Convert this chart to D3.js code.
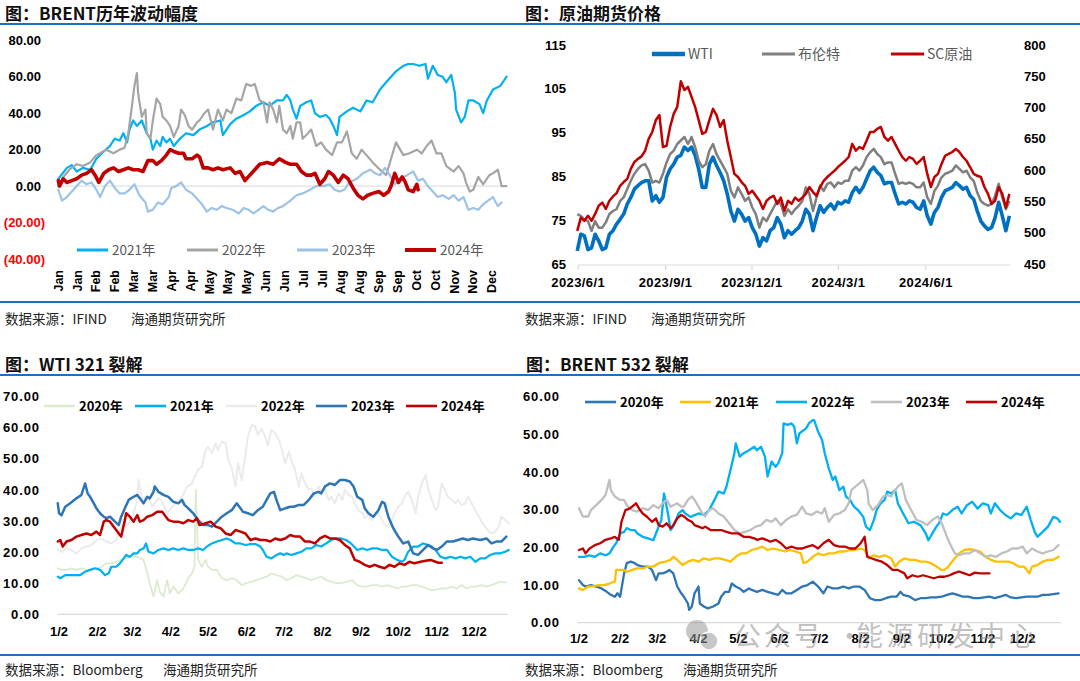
<!DOCTYPE html>
<html><head><meta charset="utf-8">
<script src="https://cdn.jsdelivr.net/npm/d3@7"></script>
<style>html,body{margin:0;padding:0;background:#fff}svg{display:block}</style>
</head><body>
<svg id="c" width="1080" height="681"></svg>
<script>
// ---------------- DATA ----------------
// Panel 1: BRENT volatility by year, [day of year, value]
const volMonths = ["Jan","Jan","Feb","Feb","Mar","Mar","Apr","Apr","May","May","May","Jun","Jun","Jul","Jul","Aug","Aug","Sep","Sep","Oct","Oct","Nov","Nov","Dec"];
const volTicks = [-40,-20,0,20,40,60,80];
const vol2021 = [[0,4],[7,10],[11,11.5],[15,8],[20,10],[26,9],[31,15],[37,19],[42,22],[46,26],[50,25],[53,29],[56,24],[58,31],[61,36],[64,33],[68,36],[72,29],[75,26],[77,20],[80,25],[83,22],[85,27],[88,24],[91,26],[94,22],[99,26],[104,29],[110,28],[115,31],[121,33],[126,35],[132,36],[134,28],[140,34],[145,37],[151,39],[156,41],[161,44],[167,46],[172,44],[178,47],[183,47],[186,50],[189,47],[191,42],[194,37],[197,44],[202,46],[206,47],[209,40],[213,38],[218,39],[221,37],[224,33],[227,28],[229,38],[235,41],[240,43],[246,41],[251,47],[256,46],[262,53],[267,57],[271,60],[275,63],[281,66],[285,67],[289,67],[294,66],[299,67],[301,59],[305,66],[309,61],[313,60],[316,57],[320,61],[323,51],[324,42],[328,35],[331,38],[334,47],[338,47],[343,45],[346,40],[349,47],[354,53],[360,55],[365,60]];
const vol2022 = [[0,0],[4,5],[9,9],[15,12],[20,11],[26,13],[31,17],[34,18],[39,20],[45,18],[50,20],[54,21],[57,29],[60,44],[62,55],[64,62],[65,51],[68,38],[71,42],[72,29],[75,26],[77,36],[80,48],[83,45],[85,38],[88,36],[91,33],[94,27],[98,33],[100,42],[103,39],[106,33],[109,31],[113,35],[115,36],[119,40],[122,42],[126,31],[130,42],[134,36],[137,42],[141,40],[145,48],[149,47],[153,56],[157,55],[160,56],[164,47],[167,46],[170,35],[172,46],[175,42],[178,35],[180,44],[183,31],[186,29],[189,33],[191,26],[194,35],[197,35],[199,26],[202,28],[206,31],[210,22],[214,24],[218,20],[223,17],[227,24],[231,24],[235,30],[239,18],[243,15],[247,20],[251,17],[256,13],[262,9],[267,6],[271,15],[275,24],[281,17],[286,18],[292,20],[296,18],[300,22],[304,25],[308,18],[312,18],[316,11],[322,8],[326,11],[330,7],[332,2],[335,-3],[338,-2],[342,5],[346,1],[351,6],[354,7],[358,9],[361,0],[365,0]];
const vol2023 = [[0,-2],[3,-8],[7,-6],[11,-3],[15,0],[19,3],[23,1],[27,2],[31,-2],[34,-6],[38,0],[42,3],[46,-1],[50,-4],[54,-4],[58,-2],[62,1],[66,-5],[71,-9],[73,-14],[77,-13],[81,-9],[85,-10],[90,-6],[92,-1],[96,0],[100,2],[104,-2],[109,-4],[113,-7],[117,-10],[121,-14],[125,-12],[129,-13],[133,-11],[137,-12],[142,-13],[147,-15],[151,-12],[155,-13],[159,-15],[163,-13],[167,-11],[171,-13],[175,-14],[179,-12],[183,-11],[189,-8],[194,-5],[199,-4],[205,-2],[210,0],[216,0],[221,1],[225,-2],[229,-3],[233,-2],[237,2],[243,4],[248,7],[254,9],[258,7],[262,6],[266,10],[270,6],[274,1],[278,4],[284,6],[289,8],[293,3],[297,4],[301,0],[305,-3],[309,-6],[313,-5],[318,-7],[322,-5],[326,-8],[330,-6],[334,-13],[338,-12],[342,-13],[346,-10],[350,-8],[354,-6],[358,-11],[361,-9]];
const vol2024 = [[0,3],[1,0],[4,4],[7,2],[11,3],[15,4],[19,6],[23,7],[27,9],[30,6],[33,2],[37,7],[41,9],[45,10],[49,8],[53,9],[57,10],[61,9],[65,9],[69,8],[73,14],[77,14],[80,12],[84,14],[88,17],[91,20],[94,19],[98,18],[102,18],[104,15],[109,15],[113,17],[115,16],[118,10],[122,10],[126,9],[130,10],[134,9],[140,10],[144,7],[148,8],[152,3],[156,6],[160,9],[164,12],[170,13],[175,12],[180,15],[185,13],[189,12],[194,12],[198,8],[202,6],[206,6],[209,7],[213,1],[217,4],[220,8],[224,6],[228,2],[232,6],[236,4],[240,-1],[244,-5],[248,-7],[252,-5],[256,-4],[261,-3],[265,-5],[269,-3],[271,0],[274,7],[277,2],[280,5],[282,3],[285,-2],[289,-3],[292,1],[293,-2]];

// Panel 2: crude futures prices, sampled every ~3.76 days from 2023-05-31
const priceStart = "2023-05-31";
const priceStepDays = 3.76;
const priceTickDates = ["2023-06-01","2023-09-01","2023-12-01","2024-03-01","2024-06-01"];
const priceTickLabels = ["2023/6/1","2023/9/1","2023/12/1","2024/3/1","2024/6/1"];
const leftTicks = [65,75,85,95,105,115];
const rightTicks = [450,500,550,600,650,700,750,800];
const wti = [68.0,71.8,71.4,68.3,68.7,71.8,70.3,68.3,68.7,71.8,72.6,74.1,75.2,76.4,78.7,80.2,82.1,82.9,83.6,84.0,84.0,79.4,80.6,79.1,80.2,84.8,86.7,87.8,89.4,89.8,91.7,90.9,91.7,89.8,86.7,82.5,82.5,87.8,89.4,87.5,85.9,84.0,81.0,77.1,74.8,77.5,76.4,74.8,75.6,73.3,71.8,69.1,71.0,70.3,72.6,73.3,75.6,74.1,71.0,72.6,71.8,72.6,73.3,74.8,77.5,76.4,72.6,75.6,78.3,76.8,77.9,78.7,77.5,79.1,78.7,79.4,79.1,81.3,82.5,81.3,82.5,84.4,86.3,87.1,85.9,85.2,83.3,83.6,83.6,81.0,78.7,79.1,78.7,79.4,79.1,77.9,77.5,79.4,76.0,74.1,76.8,77.9,80.2,81.7,82.1,82.5,83.6,82.9,82.1,82.5,80.6,79.8,77.1,74.8,73.7,72.9,73.3,75.6,79.1,76.0,72.6,76.0];
const brent = [76.4,76.0,75.2,74.8,72.6,74.8,73.3,73.3,74.5,76.4,77.1,77.5,79.4,80.2,82.1,84.0,85.6,86.7,87.5,87.8,86.3,83.6,84.0,83.6,85.6,88.2,90.1,90.9,92.4,93.2,94.0,92.4,94.0,91.7,88.6,87.1,87.8,90.9,92.4,90.1,88.6,87.1,85.6,81.7,80.2,82.5,81.0,79.4,80.2,77.9,76.4,73.3,75.6,74.8,76.4,77.9,79.4,78.7,76.0,77.5,76.4,77.5,78.3,79.4,82.5,81.0,77.1,80.2,82.9,81.7,83.3,83.6,82.5,83.6,83.3,84.0,84.0,86.3,87.1,86.3,87.5,89.4,90.5,91.3,90.1,89.4,87.8,88.2,88.2,85.6,83.3,83.6,83.3,83.6,83.3,82.5,82.5,83.6,80.2,78.7,81.7,82.9,84.8,85.6,85.9,86.3,87.5,86.7,85.9,86.3,84.8,84.0,81.3,79.4,78.7,78.3,78.7,80.6,83.3,80.2,77.5,79.4];
const sc = [503,524,519,527,519,530,543,548,538,551,558,563,575,581,586,602,613,618,622,631,650,661,680,688,637,639,669,690,701,742,728,733,717,701,680,658,661,680,698,688,669,680,647,621,594,589,581,575,562,567,559,551,538,551,556,559,546,556,535,551,546,556,551,556,562,573,565,559,573,583,589,594,599,605,610,615,621,642,631,637,634,647,661,661,666,669,653,647,653,642,631,621,615,621,618,610,615,621,594,573,589,594,610,623,626,629,634,629,621,615,605,594,591,589,573,562,546,551,573,562,540,562];

// Panel 3: WTI 321 crack, [day of year, value]
const crackTickLabels = ["1/2","2/2","3/2","4/2","5/2","6/2","7/2","8/2","9/2","10/2","11/2","12/2"];
const wtiCrackTicks = [0,10,20,30,40,50,60,70];
const w2020 = [[0,14.8],[3,14.3],[7,14.3],[11,14.8],[15,14.3],[19,14.8],[23,14.3],[27,14.3],[31,14.8],[35,15.3],[39,16.4],[43,16.4],[47,16.9],[51,17.5],[55,18.0],[59,18.5],[64,18.5],[66,18.0],[69,17.5],[72,13.2],[74,10.0],[77,5.7],[80,11.0],[82,7.3],[85,5.7],[88,11.0],[90,6.7],[93,8.9],[97,6.7],[101,8.3],[105,11.6],[108,13.2],[110,15.3],[111,40.0],[113,17.5],[116,15.3],[119,17.5],[121,15.3],[124,14.3],[128,14.3],[132,11.6],[136,11.0],[140,11.6],[144,11.0],[148,9.4],[152,10.0],[156,10.5],[160,11.0],[164,11.6],[168,12.1],[172,13.2],[176,12.6],[180,12.1],[184,11.0],[188,11.6],[192,12.6],[196,12.1],[200,11.6],[204,11.0],[208,11.6],[212,12.1],[216,11.0],[220,10.5],[224,10.0],[228,10.0],[233,10.5],[237,11.0],[241,9.4],[245,8.9],[249,8.9],[253,9.4],[257,9.4],[261,8.9],[265,9.4],[269,8.9],[273,8.3],[277,8.9],[281,8.9],[285,9.4],[289,9.4],[293,8.9],[297,8.3],[301,7.8],[305,8.0],[309,8.3],[313,8.3],[317,8.9],[321,8.3],[325,9.4],[329,8.3],[333,8.9],[337,8.9],[341,9.4],[345,8.9],[349,9.4],[353,10.0],[357,10.5],[361,10.2]];
const w2021 = [[0,12.1],[2,11.6],[6,12.6],[10,12.6],[14,12.6],[18,12.6],[22,13.7],[26,14.3],[30,14.8],[34,14.3],[38,12.6],[41,13.2],[43,15.3],[47,15.3],[50,16.4],[53,18.0],[55,19.1],[58,18.5],[61,19.6],[64,19.6],[66,20.7],[69,21.2],[71,22.8],[73,20.1],[77,19.6],[81,20.7],[85,21.2],[89,20.7],[93,21.2],[97,20.7],[101,21.2],[105,20.7],[109,20.7],[113,21.2],[117,20.7],[120,21.8],[124,22.8],[128,23.4],[132,23.9],[136,24.4],[139,23.9],[143,22.8],[147,22.8],[151,22.3],[155,22.6],[159,22.6],[163,21.8],[165,20.7],[168,18.5],[172,18.0],[176,19.1],[179,19.6],[182,19.1],[184,19.6],[188,19.1],[192,19.6],[196,20.1],[200,21.2],[204,21.2],[208,22.3],[212,21.8],[216,22.8],[220,23.9],[224,24.4],[228,24.4],[232,23.9],[236,22.8],[241,20.7],[245,21.2],[249,20.7],[253,21.2],[257,21.2],[261,20.7],[265,20.7],[269,18.5],[273,17.5],[277,16.9],[279,17.5],[282,20.1],[286,21.8],[290,21.8],[294,22.8],[298,22.3],[301,21.8],[304,20.7],[308,18.5],[312,18.0],[316,18.5],[320,18.0],[324,18.5],[328,18.0],[332,18.5],[336,16.9],[340,18.0],[344,18.0],[348,19.1],[352,19.6],[356,19.6],[360,20.1],[363,20.7]];
const w2022 = [[0,20.7],[3,20.1],[7,21.2],[11,20.7],[15,19.6],[19,21.2],[23,21.8],[27,22.3],[31,23.9],[35,24.4],[39,23.4],[43,22.8],[47,23.9],[50,27.1],[53,30.3],[55,28.2],[58,29.8],[61,32.5],[64,36.8],[65,43.2],[68,36.8],[70,37.8],[73,37.8],[76,34.6],[78,35.7],[81,37.3],[84,36.2],[88,32.5],[92,34.6],[96,36.2],[100,37.8],[104,41.1],[108,42.1],[110,44.3],[113,46.4],[116,47.5],[119,52.9],[121,53.9],[124,51.8],[127,55.0],[129,52.9],[132,55.5],[135,55.0],[137,50.2],[140,46.9],[143,41.1],[145,48.6],[148,43.2],[151,51.2],[153,57.1],[156,60.9],[159,60.4],[161,57.7],[164,59.8],[167,57.1],[169,54.4],[172,59.3],[175,58.2],[178,56.1],[180,53.4],[183,48.6],[186,52.3],[188,49.6],[191,46.4],[194,41.1],[196,45.3],[199,42.1],[202,40.0],[204,40.5],[207,38.4],[210,41.1],[212,39.4],[215,40.0],[218,36.8],[220,37.8],[223,35.7],[226,38.9],[229,36.8],[231,40.0],[234,38.4],[237,37.8],[239,35.7],[242,33.5],[245,32.5],[247,30.9],[250,31.9],[253,30.3],[255,32.5],[258,32.5],[261,30.3],[263,28.7],[266,28.2],[269,30.3],[271,32.5],[274,34.6],[277,35.7],[279,37.8],[282,39.4],[285,36.8],[288,32.5],[290,37.8],[293,42.1],[296,44.8],[298,40.5],[301,36.8],[304,33.5],[306,34.6],[309,42.1],[312,39.4],[314,37.8],[317,36.8],[320,35.7],[322,36.8],[325,35.2],[328,35.7],[330,37.8],[333,35.7],[336,33.5],[339,31.4],[341,29.8],[344,28.2],[347,26.6],[349,26.0],[352,26.6],[355,28.2],[357,31.4],[360,30.3],[363,29.3]];
const w2023 = [[0,35.7],[1,32.5],[3,31.9],[6,34.6],[10,35.7],[15,37.3],[19,38.4],[22,42.1],[24,38.9],[26,37.8],[29,35.7],[31,34.1],[34,32.5],[37,31.4],[39,30.9],[42,31.4],[46,29.8],[49,28.7],[51,31.4],[54,34.1],[57,36.8],[61,37.8],[64,38.4],[66,37.3],[69,35.7],[72,37.8],[74,37.3],[77,39.4],[78,41.1],[81,39.4],[85,38.4],[89,37.8],[93,36.2],[97,35.7],[100,36.8],[102,35.2],[105,34.1],[109,32.5],[113,30.3],[117,28.7],[121,28.7],[124,28.2],[128,29.8],[132,31.4],[136,32.5],[140,33.5],[144,35.7],[147,34.1],[149,33.0],[153,32.5],[157,31.9],[161,33.5],[165,34.6],[168,36.8],[171,38.9],[174,39.4],[176,36.8],[179,33.5],[183,34.1],[187,34.6],[190,34.6],[194,35.2],[198,35.2],[202,36.8],[206,38.9],[210,39.4],[212,38.9],[215,41.1],[219,42.1],[223,41.6],[227,43.2],[231,43.2],[235,42.7],[238,41.1],[241,37.8],[245,36.8],[247,34.1],[250,32.5],[254,31.4],[258,33.5],[261,36.2],[263,35.7],[266,31.4],[270,27.7],[274,25.0],[278,22.8],[282,23.4],[286,19.6],[290,19.1],[294,20.7],[298,22.3],[302,21.2],[305,20.7],[309,21.8],[313,23.4],[318,23.4],[322,23.9],[326,24.4],[330,23.9],[334,24.4],[340,23.9],[345,24.4],[349,22.8],[353,23.4],[357,23.4],[361,25.0]];
const w2024 = [[0,23.4],[2,23.9],[4,21.8],[7,23.4],[11,23.9],[15,25.0],[19,25.5],[23,26.0],[27,25.5],[31,26.6],[34,25.5],[37,29.8],[39,30.3],[42,29.8],[45,28.2],[47,27.1],[50,25.5],[51,25.0],[54,30.3],[55,32.5],[58,31.4],[61,29.8],[64,31.9],[66,29.8],[69,30.3],[72,31.4],[76,31.9],[80,33.0],[84,33.0],[86,31.9],[89,30.3],[93,29.8],[97,29.8],[101,29.3],[105,30.3],[109,29.8],[112,30.9],[114,28.7],[119,29.3],[123,29.8],[127,28.2],[131,27.7],[135,26.0],[139,25.5],[143,27.1],[147,26.6],[151,26.0],[155,23.9],[159,24.4],[163,23.9],[167,23.9],[171,23.4],[175,24.4],[179,23.9],[183,24.4],[187,25.5],[191,25.0],[195,25.0],[199,23.4],[203,23.4],[207,22.8],[211,24.4],[215,25.2],[219,24.4],[223,24.4],[227,23.9],[231,22.3],[235,21.2],[239,17.5],[243,16.9],[247,15.9],[251,15.3],[255,15.9],[259,15.3],[263,14.8],[267,15.9],[271,15.3],[275,16.4],[279,15.9],[283,16.9],[287,16.4],[292,16.9],[296,17.2],[300,17.5],[304,16.9],[306,16.6],[309,16.6]];

// Panel 4: BRENT 532 crack, [day of year, value]
const brentCrackTicks = [0,10,20,30,40,50,60];
const b2020 = [[1,11.3],[4,10.0],[6,9.6],[10,10.0],[14,9.6],[18,9.1],[22,8.2],[25,7.4],[28,6.9],[30,7.8],[32,6.9],[35,13.1],[37,15.8],[40,16.2],[43,15.8],[45,15.3],[49,14.9],[53,14.9],[56,14.0],[59,11.3],[61,13.1],[64,13.1],[67,13.5],[69,14.0],[72,13.1],[75,9.6],[78,7.8],[80,6.9],[83,5.1],[84,3.4],[86,4.3],[88,7.8],[91,9.6],[92,5.1],[95,4.3],[98,3.8],[102,4.3],[106,5.1],[108,6.9],[111,8.2],[114,8.2],[116,10.4],[119,9.6],[122,9.1],[125,8.2],[129,9.1],[131,8.7],[135,8.2],[139,8.7],[143,8.2],[147,7.8],[151,7.4],[154,8.7],[157,7.8],[161,7.8],[165,8.7],[169,9.6],[173,10.0],[177,10.9],[181,9.6],[185,7.8],[188,9.6],[192,9.1],[196,9.1],[200,9.6],[204,9.1],[208,9.6],[212,9.6],[216,8.7],[220,6.5],[224,6.0],[228,6.0],[232,6.5],[236,6.9],[240,6.9],[243,8.2],[245,7.4],[250,6.9],[254,6.0],[258,6.5],[262,6.5],[266,6.7],[270,6.7],[274,6.9],[278,7.4],[282,7.8],[286,7.4],[290,6.9],[294,6.9],[298,6.5],[302,6.5],[306,6.7],[310,6.9],[314,6.5],[318,6.9],[322,7.4],[326,6.7],[330,6.5],[334,6.7],[338,6.9],[342,6.9],[346,6.9],[350,7.4],[354,7.4],[358,7.6],[362,7.8]];
const b2021 = [[1,9.1],[4,8.7],[8,9.6],[12,9.7],[16,10.0],[20,10.0],[24,10.4],[28,10.9],[29,14.0],[32,14.0],[35,14.0],[37,13.5],[41,14.0],[45,14.4],[49,14.4],[53,14.9],[57,14.9],[61,15.8],[66,16.2],[70,16.7],[72,17.5],[75,16.7],[79,15.3],[83,16.2],[87,16.7],[91,16.2],[95,17.1],[99,16.7],[103,17.1],[107,17.1],[111,16.7],[115,16.2],[119,17.5],[123,18.4],[127,18.4],[131,19.3],[135,19.7],[139,20.2],[143,19.3],[147,19.7],[152,19.3],[156,18.9],[160,19.3],[164,18.9],[168,18.4],[170,15.8],[173,16.2],[177,17.5],[181,18.4],[185,17.9],[189,18.4],[193,18.4],[197,18.9],[201,18.9],[205,19.3],[209,19.3],[213,19.7],[216,19.3],[219,17.1],[223,17.9],[227,17.5],[231,17.9],[236,17.1],[239,14.9],[242,16.2],[246,17.1],[250,16.7],[254,16.7],[258,16.2],[262,16.2],[266,15.8],[270,14.9],[274,14.0],[276,14.0],[279,14.9],[283,16.7],[287,18.4],[291,19.3],[295,19.5],[299,19.3],[303,18.9],[307,17.5],[311,16.7],[315,16.2],[319,16.2],[324,16.2],[328,15.8],[332,14.9],[336,14.9],[340,13.1],[342,14.9],[346,15.3],[350,16.2],[354,16.7],[358,16.7],[362,17.5]];
const b2022 = [[1,17.5],[5,17.5],[9,17.9],[13,17.5],[17,18.4],[21,17.9],[24,18.4],[27,20.2],[29,21.1],[32,23.7],[35,24.1],[37,25.1],[40,24.6],[43,24.6],[45,23.7],[49,22.8],[53,22.4],[57,21.9],[60,24.6],[63,27.3],[65,34.3],[68,29.0],[70,24.6],[72,25.5],[76,29.0],[79,29.9],[81,29.0],[85,28.1],[91,29.0],[95,28.6],[99,29.9],[103,32.6],[106,34.8],[110,34.3],[112,36.1],[115,40.5],[118,45.0],[119,47.6],[122,44.1],[125,45.0],[129,45.8],[133,46.7],[135,45.8],[138,46.7],[141,44.1],[143,38.8],[146,42.8],[149,41.4],[151,42.3],[154,45.0],[155,52.9],[158,52.5],[161,52.9],[163,52.1],[165,47.6],[167,50.3],[172,51.6],[174,52.9],[177,53.8],[178,53.8],[181,50.7],[184,48.5],[186,45.0],[189,41.0],[192,37.9],[194,38.8],[197,35.2],[200,36.1],[202,33.5],[205,32.6],[208,30.8],[211,29.9],[215,28.1],[217,25.5],[220,24.6],[223,27.3],[225,29.9],[228,31.7],[231,32.6],[233,34.8],[236,34.3],[239,35.2],[241,31.7],[245,29.0],[249,26.4],[253,26.8],[258,25.9],[262,23.7],[264,21.9],[267,23.7],[270,25.5],[272,26.4],[275,29.0],[278,28.6],[282,29.9],[286,30.8],[289,29.0],[293,31.2],[297,32.1],[301,30.3],[305,31.7],[309,31.2],[311,29.0],[314,31.7],[318,29.9],[322,28.6],[326,27.7],[330,29.0],[334,28.6],[338,30.8],[341,27.3],[344,24.1],[346,22.8],[350,24.1],[354,25.5],[358,28.1],[361,27.7],[363,26.8]];
const b2023 = [[1,30.4],[4,28.2],[8,28.2],[10,29.9],[14,31.2],[18,32.6],[21,33.9],[24,37.9],[25,35.2],[28,33.5],[32,32.6],[35,32.6],[37,31.2],[41,29.9],[45,29.5],[49,30.4],[53,29.9],[57,31.2],[61,30.4],[64,31.7],[67,32.6],[70,30.8],[72,31.2],[75,31.7],[78,30.8],[80,30.8],[83,32.6],[86,33.5],[88,32.6],[91,30.8],[94,29.0],[96,28.2],[99,29.9],[102,30.4],[106,29.0],[110,28.2],[114,26.4],[118,24.6],[122,23.7],[126,24.1],[130,24.6],[134,25.5],[138,25.9],[142,27.3],[146,26.8],[149,27.7],[153,25.9],[157,27.3],[161,28.2],[165,28.6],[169,30.8],[172,29.0],[176,28.6],[180,29.5],[184,29.0],[186,30.4],[189,26.8],[193,28.6],[197,29.0],[201,29.9],[204,31.7],[206,35.2],[209,36.1],[212,37.0],[215,37.9],[218,35.2],[219,31.7],[222,29.9],[226,31.2],[230,33.5],[233,33.9],[236,33.5],[239,35.2],[241,36.1],[244,37.0],[247,32.6],[251,29.9],[255,27.3],[259,26.8],[263,25.9],[267,27.3],[271,28.2],[274,26.4],[277,23.7],[279,21.9],[282,19.7],[284,18.4],[287,17.9],[291,18.4],[295,18.4],[299,19.3],[303,18.4],[307,17.5],[311,17.9],[315,17.5],[319,18.4],[323,18.9],[327,19.7],[331,19.7],[335,20.2],[338,18.4],[342,19.7],[346,18.9],[350,18.4],[354,18.9],[358,19.3],[362,20.6]];
const b2024 = [[1,19.3],[4,19.7],[6,18.4],[9,19.7],[13,20.6],[17,21.1],[21,22.0],[25,22.4],[28,22.8],[31,22.0],[33,26.8],[36,29.9],[39,30.3],[41,30.8],[44,31.7],[47,29.9],[49,29.0],[52,28.2],[56,26.8],[59,27.7],[61,25.9],[64,25.5],[67,26.4],[70,25.1],[72,25.9],[75,27.7],[78,28.6],[80,28.2],[83,27.3],[86,26.8],[88,25.9],[91,25.5],[94,25.1],[96,25.5],[100,24.6],[104,24.6],[108,24.6],[112,24.1],[116,23.7],[121,23.7],[125,22.8],[129,22.8],[133,22.4],[135,22.0],[139,22.4],[142,22.0],[145,21.5],[149,22.0],[153,21.1],[157,19.7],[161,20.2],[165,19.7],[169,19.7],[173,20.2],[177,20.6],[181,19.7],[185,21.1],[189,22.0],[193,20.6],[197,20.2],[201,20.2],[205,19.7],[209,19.7],[213,21.1],[216,22.8],[218,17.5],[221,17.1],[225,16.6],[229,16.2],[233,15.3],[237,14.0],[241,14.0],[246,13.1],[248,11.8],[252,12.6],[256,12.2],[260,12.6],[264,12.2],[268,11.8],[272,12.2],[276,12.2],[280,12.6],[283,13.1],[287,13.6],[291,13.1],[295,12.6],[299,13.3],[303,13.1],[307,13.1],[310,13.1]];

// ---------------- DRAWING ----------------
const svg = d3.select("#c");
const NUM = "'Liberation Sans', Arial, sans-serif";
const CJK = "'Noto Sans CJK SC', 'Liberation Sans', sans-serif";
const RULE = "#1F6FC0";
const GRID = "#D9D9D9";

// header / footer rules
[24, 302, 375, 655].forEach(y => svg.append("line").attr("x1",0).attr("x2",1080).attr("y1",y).attr("y2",y)
  .attr("stroke",RULE).attr("stroke-width",2));

function title(x, y, t){
  svg.append("text").attr("x",x).attr("y",y).attr("font-family",CJK).attr("font-size",17)
    .attr("font-weight","bold").attr("fill","#111").text(t);
}
title(5,20,"图：BRENT历年波动幅度");
title(525,20,"图：原油期货价格");
title(5,371,"图：WTI 321 裂解");
title(526,371,"图：BRENT 532 裂解");

function footer(x, y, src, x2){
  const t = svg.append("text").attr("y",y).attr("font-family",CJK).attr("font-size",13.5).attr("fill","#222");
  t.append("tspan").attr("x",x).text("数据来源："+src);
  t.append("tspan").attr("x",x2).text("海通期货研究所");
}
footer(5,324,"IFIND",131);
footer(525,324,"IFIND",651);
footer(5,675,"Bloomberg",163);
footer(525,675,"Bloomberg",683);

function drawLine(g, data, x, y, color, w){
  g.append("path").datum(data)
    .attr("d", d3.line().x(d=>x(d[0])).y(d=>y(d[1])))
    .attr("fill","none").attr("stroke",color).attr("stroke-width",w)
    .attr("stroke-linejoin","round").attr("stroke-linecap","round");
}

// ===== Panel 1 =====
{
  const g = svg.append("g");
  const x = d3.scaleLinear([0,365],[58.3,506.5]);
  const y = d3.scaleLinear([-40,80],[259,40.3]);
  g.append("line").attr("x1",x(0)).attr("x2",x(365)).attr("y1",y(0)).attr("y2",y(0)).attr("stroke",GRID).attr("stroke-width",1);
  g.selectAll("text.yt").data(volTicks).join("text")
    .attr("x",d=>d<0?45:41).attr("y",d=>y(d)).attr("dy","0.35em").attr("text-anchor","end")
    .attr("font-family",NUM).attr("font-size",13).attr("font-weight","bold")
    .attr("fill",d=>d<0?"#FF0000":"#000")
    .text(d=>d<0?"("+d3.format(".2f")(-d)+")":d3.format(".2f")(d));
  const mx = d3.scalePoint(d3.range(volMonths.length),[58.3,491.7]);
  g.selectAll("text.mt").data(volMonths).join("text")
    .attr("transform",(d,i)=>`translate(${mx(i)},270) rotate(-90)`)
    .attr("text-anchor","end").attr("dy","0.36em")
    .attr("font-family",NUM).attr("font-size",12.5).attr("font-weight","bold").attr("fill","#000")
    .text(d=>d);
  const series = [
    {n:"2021年",d:vol2021,c:"#00B0F0",w:2.2,lx:77},
    {n:"2022年",d:vol2022,c:"#A5A5A5",w:2.2,lx:187},
    {n:"2023年",d:vol2023,c:"#9DC3E6",w:2.2,lx:297},
    {n:"2024年",d:vol2024,c:"#C00000",w:3.6,lx:405}
  ];
  series.forEach(s=>drawLine(g,s.d,x,y,s.c,s.w));
  series.forEach(s=>{
    g.append("line").attr("x1",s.lx).attr("x2",s.lx+31).attr("y1",250).attr("y2",250)
      .attr("stroke",s.c).attr("stroke-width",s.w>3?4:3);
    g.append("text").attr("x",s.lx+35).attr("y",250).attr("dy","0.35em")
      .attr("font-family",CJK).attr("font-size",13.5).attr("fill","#595959").text(s.n);
  });
}

// ===== Panel 2 =====
{
  const g = svg.append("g");
  const parse = d3.timeParse("%Y-%m-%d");
  const x = d3.scaleTime([parse("2023-06-01"), parse("2024-08-29")],[578.2,1010.4]);
  const yL = d3.scaleLinear([65,115],[264,45]);
  const yR = d3.scaleLinear([450,800],[264,45]);
  const t0 = parse(priceStart);
  const dateAt = i => new Date(t0.getTime() + i*priceStepDays*86400000);
  g.append("line").attr("x1",578.2).attr("x2",1010.4).attr("y1",yL(65)+1).attr("y2",yL(65)+1).attr("stroke",GRID).attr("stroke-width",1.2);
  priceTickDates.forEach((d,i)=>{
    const xx = x(parse(d));
    g.append("line").attr("x1",xx).attr("x2",xx).attr("y1",yL(65)+1).attr("y2",yL(65)+6).attr("stroke",GRID).attr("stroke-width",1.2);
    g.append("text").attr("x",xx).attr("y",282).attr("dy","0.35em").attr("text-anchor","middle")
      .attr("font-family",NUM).attr("font-size",13).attr("font-weight","bold").attr("letter-spacing",0.4).attr("fill","#000")
      .text(priceTickLabels[i]);
  });
  g.selectAll("text.yl").data(leftTicks).join("text")
    .attr("x",566).attr("y",d=>yL(d)).attr("dy","0.35em").attr("text-anchor","end")
    .attr("font-family",NUM).attr("font-size",13).attr("font-weight","bold").attr("fill","#000").text(d=>d);
  g.selectAll("text.yr").data(rightTicks).join("text")
    .attr("x",1024).attr("y",d=>yR(d)).attr("dy","0.35em").attr("text-anchor","start")
    .attr("font-family",NUM).attr("font-size",13).attr("font-weight","bold").attr("fill","#000").text(d=>d);
  const lineL = d3.line().x((d,i)=>x(dateAt(i))).y(d=>yL(d));
  const lineR = d3.line().x((d,i)=>x(dateAt(i))).y(d=>yR(d));
  g.append("path").datum(wti).attr("d",lineL).attr("fill","none").attr("stroke","#0070C0").attr("stroke-width",3.6).attr("stroke-linejoin","round");
  g.append("path").datum(brent).attr("d",lineL).attr("fill","none").attr("stroke","#7F7F7F").attr("stroke-width",2.5).attr("stroke-linejoin","round");
  g.append("path").datum(sc).attr("d",lineR).attr("fill","none").attr("stroke","#C00000").attr("stroke-width",2.5).attr("stroke-linejoin","round");
  const leg = [{n:"WTI",c:"#0070C0",w:4.5,lx:652},{n:"布伦特",c:"#7F7F7F",w:3,lx:762},{n:"SC原油",c:"#C00000",w:3,lx:891}];
  leg.forEach(s=>{
    g.append("line").attr("x1",s.lx).attr("x2",s.lx+33).attr("y1",54).attr("y2",54).attr("stroke",s.c).attr("stroke-width",s.w);
    g.append("text").attr("x",s.lx+36).attr("y",54).attr("dy","0.35em").attr("font-family",CJK)
      .attr("font-size",14).attr("fill","#595959").text(s.n);
  });
}

// ===== Crack panels =====
const tickDays = crackTickLabels.map((l,i)=>d3.timeDay.count(new Date(2023,0,1), new Date(2023,i,2)));

function crackPanel(opt){
  const g = svg.append("g");
  const x = d3.scaleLinear([0,opt.xMax],opt.xr);
  const y = d3.scaleLinear(opt.yd,opt.yr);
  g.append("line").attr("x1",opt.xr[0]).attr("x2",opt.xr[1]).attr("y1",y(0)).attr("y2",y(0)).attr("stroke",GRID).attr("stroke-width",1.2);
  g.selectAll("text.yt").data(opt.ticks).join("text")
    .attr("x",opt.ylx).attr("y",d=>y(d)).attr("dy","0.35em").attr("text-anchor","end")
    .attr("font-family",NUM).attr("font-size",13).attr("font-weight","bold").attr("letter-spacing",0.9).attr("fill","#000")
    .text(d=>d3.format(".2f")(d));
  g.selectAll("text.xt").data(crackTickLabels).join("text")
    .attr("x",(d,i)=>x(tickDays[i])).attr("y",opt.xly).attr("dy","0.35em").attr("text-anchor","middle")
    .attr("font-family",NUM).attr("font-size",13).attr("font-weight","bold").attr("fill","#000").text(d=>d);
  opt.order.forEach(k=>{const s=opt.series[k]; drawLine(g,s.d,x,y,s.c,s.w);});
  opt.series.forEach(s=>{
    g.append("line").attr("x1",s.lx).attr("x2",s.lx+31).attr("y1",opt.legY).attr("y2",opt.legY).attr("stroke",s.c).attr("stroke-width",2.6);
    g.append("text").attr("x",s.lx+35).attr("y",opt.legY).attr("dy","0.35em")
      .attr("font-family",CJK).attr("font-size",13).attr("font-weight","bold").attr("fill","#000").text(s.n);
  });
}

crackPanel({
  xMax:362, xr:[57.8,507.6], yd:[0,70], yr:[614.3,396.7], ticks:wtiCrackTicks, ylx:40, xly:631, legY:406,
  series:[
    {n:"2020年",d:w2020,c:"#DCEBD0",w:1.8,lx:44},
    {n:"2021年",d:w2021,c:"#00B0F0",w:2.2,lx:135},
    {n:"2022年",d:w2022,c:"#EBEBEB",w:2.0,lx:226},
    {n:"2023年",d:w2023,c:"#2E75B6",w:2.5,lx:316},
    {n:"2024年",d:w2024,c:"#C00000",w:2.5,lx:406}
  ],
  order:[2,0,1,3,4]
});

crackPanel({
  xMax:363.8, xr:[577.6,1061], yd:[0,60], yr:[622.7,396.7], ticks:brentCrackTicks, ylx:560, xly:638, legY:402,
  series:[
    {n:"2020年",d:b2020,c:"#2E75B6",w:2.3,lx:585},
    {n:"2021年",d:b2021,c:"#FFC000",w:2.3,lx:680},
    {n:"2022年",d:b2022,c:"#00B0F0",w:2.3,lx:776},
    {n:"2023年",d:b2023,c:"#BFBFBF",w:2.3,lx:871},
    {n:"2024年",d:b2024,c:"#C00000",w:2.3,lx:966}
  ],
  order:[0,1,2,3,4]
});

// watermark
{
  const wm = svg.append("g").attr("opacity",0.55);
  wm.append("circle").attr("cx",697).attr("cy",631).attr("r",11).attr("fill","#9a9a9a");
  wm.append("circle").attr("cx",709).attr("cy",641).attr("r",9).attr("fill","#9a9a9a").attr("stroke","#fff").attr("stroke-width",1.5);
  wm.append("text").attr("x",734).attr("y",646).attr("font-family",CJK).attr("font-size",27).attr("letter-spacing",3)
    .attr("fill","#8f8f8f").text("公众号");
  wm.append("text").attr("x",836).attr("y",646).attr("font-family",CJK).attr("font-size",27)
    .attr("fill","#8f8f8f").text("·");
  wm.append("text").attr("x",856).attr("y",646).attr("font-family",CJK).attr("font-size",27).attr("letter-spacing",3.5)
    .attr("fill","#8f8f8f").text("能源研发中心");
}
</script>
</body></html>
